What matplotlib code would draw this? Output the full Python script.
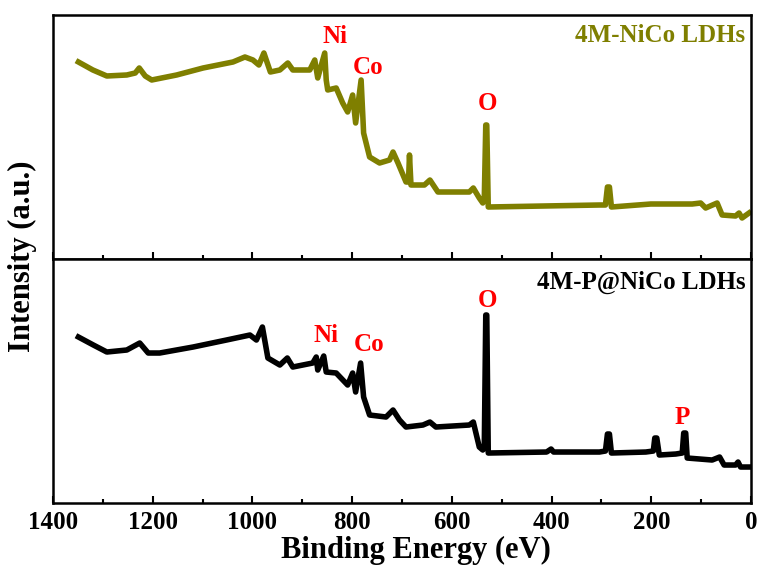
import numpy as np
import matplotlib.pyplot as plt
from matplotlib.ticker import MultipleLocator

plt.rcParams['font.family'] = ['Liberation Serif', 'DejaVu Serif']
plt.rcParams['font.weight'] = 'bold'

# 4M-NiCo LDHs survey (binding energy eV, intensity a.u.)
e_nico = [1349, 1320, 1292, 1252, 1235, 1227, 1215, 1202, 1152, 1099, 1039, 1015,
          999, 987, 977, 964, 945, 929, 919, 885, 875, 869, 855, 852, 849, 832,
          819, 809, 799, 793, 782, 777, 765, 745, 725, 718, 708, 692, 687, 685,
          682, 668, 655, 644, 628, 565, 557, 545, 538, 535, 532, 530, 527, 304,
          292, 288, 284, 280, 201, 118, 101, 91, 68, 58, 31, 24, 18, 4]
i_nico = [197, 189, 183, 184, 186, 191, 183, 179, 184, 191, 197, 202,
          199, 194, 206, 187, 189, 196, 189, 189, 199, 181, 206, 179, 169, 171,
          156, 147, 164, 136, 179, 126, 102, 96, 99, 107, 96, 77, 77, 104,
          74, 74, 74, 79, 67, 67, 71, 61, 56, 60, 134, 134, 52, 54,
          54, 72, 72, 52, 55, 55, 56, 51, 56, 44, 43, 46, 41, 46]

# 4M-P@NiCo LDHs survey
e_pnico = [1349, 1319, 1292, 1252, 1226, 1209, 1186, 1119, 1052, 1005, 992, 980,
           969, 945, 930, 919, 879, 872, 869, 857, 852, 832, 809, 799, 793, 783,
           777, 765, 732, 718, 705, 692, 658, 644, 632, 565, 557, 545, 538, 535,
           532, 530, 527, 410, 401, 396, 304, 292, 288, 284, 280, 211, 196, 193,
           189, 184, 151, 138, 135, 131, 128, 78, 63, 54, 31, 26, 21, 4]
i_pnico = [166, 158, 151, 153, 160, 150, 150, 156, 163, 168, 163, 176,
           145, 138, 145, 136, 140, 146, 133, 147, 131, 130, 118, 130, 111, 140,
           106, 88, 86, 93, 83, 76, 78, 81, 76, 78, 81, 56, 53, 55,
           188, 188, 50, 51, 54, 51, 51, 52, 69, 69, 50, 51, 52, 65,
           65, 48, 49, 50, 70, 70, 45, 43, 46, 38, 38, 41, 36, 36]

peaks_nico = [('Ni', 835, 222), ('Co', 769, 191), ('O', 529, 155)]
peaks_pnico = [('Ni', 853, 168), ('Co', 767, 159), ('O', 529, 203), ('P', 138, 86)]

olive = '#7f7f00'

fig = plt.figure(figsize=(7.58, 5.7), dpi=100)
ax1 = fig.add_axes([0.0699, 0.5456, 0.9209, 0.4281])
ax2 = fig.add_axes([0.0699, 0.1175, 0.9209, 0.4281])

ax1.plot(e_nico, i_nico, color=olive, lw=4, solid_joinstyle='round')
ax2.plot(e_pnico, i_pnico, color='black', lw=4, solid_joinstyle='round')

for ax in (ax1, ax2):
    ax.set_xlim(1400, 0)
    ax.set_ylim(0, 244)
    ax.set_yticks([])
    ax.xaxis.set_major_locator(MultipleLocator(200))
    ax.xaxis.set_minor_locator(MultipleLocator(100))
    ax.tick_params(axis='x', which='major', direction='in', length=5, width=1.5,
                   labelsize=18, pad=6)
    ax.tick_params(axis='x', which='minor', direction='in', length=3, width=1.5)
    for s in ax.spines.values():
        s.set_linewidth(1.8)

ax1.tick_params(axis='x', labelbottom=False)

for lab, x, y in peaks_nico:
    ax1.text(x, y, lab, color='red', fontsize=18, fontweight='bold', ha='center', va='center')
for lab, x, y in peaks_pnico:
    ax2.text(x, y, lab, color='red', fontsize=18, fontweight='bold', ha='center', va='center')

ax1.text(0.992, 0.918, '4M-NiCo LDHs', transform=ax1.transAxes, color=olive,
         fontsize=18, fontweight='bold', ha='right', va='center')
ax2.text(0.992, 0.906, '4M-P@NiCo LDHs', transform=ax2.transAxes, color='black',
         fontsize=18, fontweight='bold', ha='right', va='center')

ax2.set_xlabel('Binding Energy (eV)', fontsize=22, fontweight='bold')
ax2.xaxis.set_label_coords(0.52, -0.135)
fig.text(0.029, 0.551, 'Intensity (a.u.)', rotation=90, fontsize=22,
         fontweight='bold', ha='center', va='center')

fig.savefig('out.png', dpi=100)
